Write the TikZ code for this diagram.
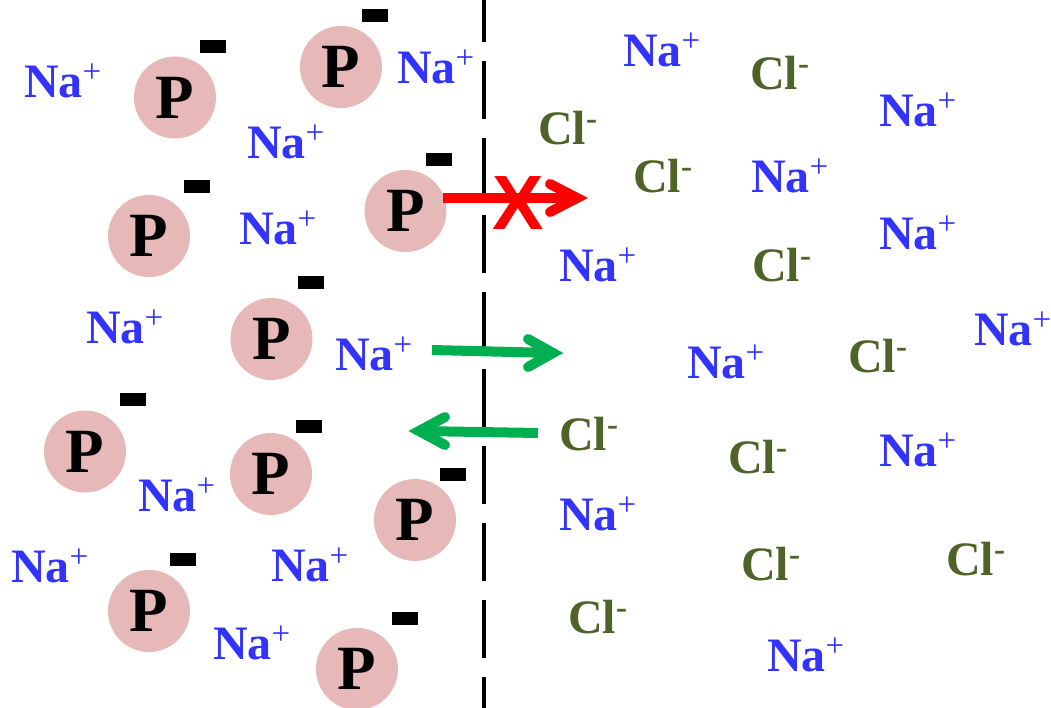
\documentclass[tikz,border=0pt]{standalone}
\usepackage{fontspec}
\setmainfont{Liberation Serif}
\newfontfamily\xfont{Liberation Sans}
\definecolor{nablue}{RGB}{51,51,255}
\definecolor{clgreen}{RGB}{79,98,40}
\definecolor{arrgreen}{RGB}{0,176,80}
\definecolor{ppink}{RGB}{230,184,183}
\definecolor{xred}{RGB}{255,0,0}
\newcommand\naplus{\fontsize{48}{48}\selectfont\bfseries Na\raisebox{15pt}{\fontsize{33}{33}\selectfont\mdseries +}}
\newcommand\clminus{\fontsize{48}{48}\selectfont\bfseries Cl\raisebox{15pt}{\fontsize{33}{33}\selectfont\bfseries -}}
\tikzset{
  ion/.style={inner sep=0pt, outer sep=0pt, anchor=base west},
  na/.style={ion, text=nablue},
  cl/.style={ion, text=clgreen},
  pion/.style={circle, fill=ppink, minimum size=82pt, inner sep=0pt, font=\bfseries\fontsize{63}{63}\selectfont},
  neg/.style={rectangle, fill=black, minimum width=26pt, minimum height=13pt, inner sep=0pt},
  membrane/.style={line width=3.5pt, dash pattern=on 58pt off 19pt},
  shaft/.style={line width=#1, line cap=butt},
  chevron/.style={line width=#1, line cap=round, line join=miter},
}
\begin{document}
\begin{tikzpicture}[x=1pt, y=-1pt]
\useasboundingbox (0,0) rectangle (1051,708);
\clip (0,0) rectangle (1051,708);
% membrane
\coordinate (mtop) at (484,-16);
\coordinate (mbot) at (484,730);
\draw[membrane] (mtop) -- (mbot);
% P ions
\node[pion] (p1) at (175,97.5) {P};
\node[pion] (p2) at (341,67) {P};
\node[pion] (p3) at (405.5,211) {P};
\node[pion] (p4) at (149,236) {P};
\node[pion] (p5) at (271.5,339) {P};
\node[pion] (p6) at (85,451.5) {P};
\node[pion] (p7) at (271,474) {P};
\node[pion] (p8) at (415,520) {P};
\node[pion] (p9) at (149,611) {P};
\node[pion] (p10) at (357,669) {P};
% negative charges
\node[neg] (m1) at (213,47) {};
\node[neg] (m2) at (375,15.5) {};
\node[neg] (m3) at (439,159.5) {};
\node[neg] (m4) at (197,186.5) {};
\node[neg] (m5) at (311,282.5) {};
\node[neg] (m6) at (133,399.5) {};
\node[neg] (m7) at (309,426.5) {};
\node[neg] (m8) at (453,474.5) {};
\node[neg] (m9) at (183,559) {};
\node[neg] (m10) at (405,618.5) {};
% Na+ left
\node[na] (na1) at (24,98) {\naplus};
\node[na] (na2) at (397,84) {\naplus};
\node[na] (na3) at (247,159) {\naplus};
\node[na] (na4) at (239,245) {\naplus};
\node[na] (na5) at (86,343) {\naplus};
\node[na] (na6) at (335,370) {\naplus};
\node[na] (na7) at (138,511) {\naplus};
\node[na] (na8) at (11,582) {\naplus};
\node[na] (na9) at (271,581) {\naplus};
\node[na] (na10) at (213,659) {\naplus};
% Na+ right
\node[na] (na11) at (623,67) {\naplus};
\node[na] (na12) at (879,127) {\naplus};
\node[na] (na13) at (751,193) {\naplus};
\node[na] (na14) at (879,250) {\naplus};
\node[na] (na15) at (559,282) {\naplus};
\node[na] (na16) at (974,345) {\naplus};
\node[na] (na17) at (687,378) {\naplus};
\node[na] (na18) at (879,466) {\naplus};
\node[na] (na19) at (559,530) {\naplus};
\node[na] (na20) at (767,671) {\naplus};
% Cl- right
\node[cl] (cl1) at (750,90) {\clminus};
\node[cl] (cl2) at (538,145) {\clminus};
\node[cl] (cl3) at (633,193) {\clminus};
\node[cl] (cl4) at (752,282) {\clminus};
\node[cl] (cl5) at (848,372) {\clminus};
\node[cl] (cl6) at (559,450) {\clminus};
\node[cl] (cl7) at (728,473) {\clminus};
\node[cl] (cl8) at (946,575) {\clminus};
\node[cl] (cl9) at (741,580) {\clminus};
\node[cl] (cl10) at (568,633) {\clminus};
% red blocked arrow
\coordinate (rs) at (443,198);
\coordinate (rt) at (577,198);
\coordinate (ra) at (550,184);
\coordinate (rb) at (550,212);
\draw[xred, shaft=10pt] (rs) -- (rt);
\draw[xred, chevron=10pt] (ra) -- (rt) -- (rb);
\node[text=xred, inner sep=0pt, font=\xfont\bfseries\fontsize{77}{77}\selectfont] (cross) at (518.5,203) {X};
% green arrow Na+ outward
\coordinate (gs) at (432,350);
\coordinate (gt) at (553,353);
\coordinate (ga) at (528,339);
\coordinate (gb) at (528,367);
\draw[arrgreen, shaft=10pt] (gs) -- (gt);
\draw[arrgreen, chevron=10pt] (ga) -- (gt) -- (gb);
% green arrow Cl- inward
\coordinate (hs) at (538,433);
\coordinate (ht) at (419,431);
\coordinate (ha) at (445,417);
\coordinate (hb) at (445,445);
\draw[arrgreen, shaft=10pt] (hs) -- (ht);
\draw[arrgreen, chevron=10pt] (ha) -- (ht) -- (hb);
\end{tikzpicture}
\end{document}
